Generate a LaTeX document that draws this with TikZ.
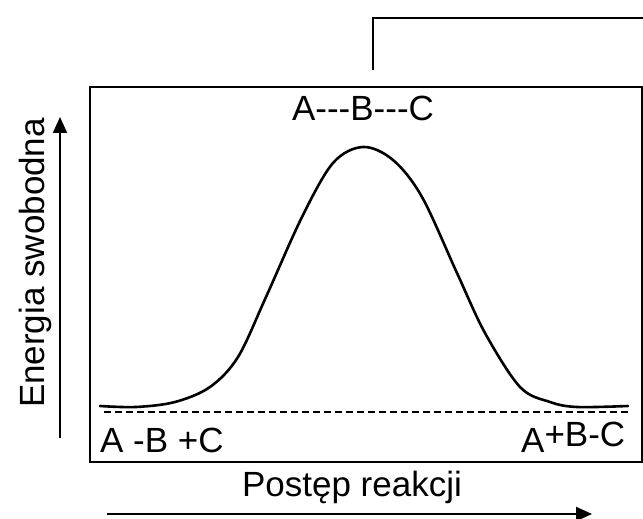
\documentclass[tikz,border=0pt]{standalone}
\usepackage{fontspec}
\setmainfont{Liberation Sans}
\usetikzlibrary{arrows.meta}

\begin{document}
\begin{tikzpicture}[
	x=1pt, y=1pt,
	lbl/.style={ inner sep=0pt, font=\fontsize{35}{40}\selectfont },
	frame/.style={ line width=2pt },
	curve/.style={ line width=2.6pt, line join=round, line cap=round },
	baseline/.style={ line width=2.2pt, dash pattern=on 7pt off 4pt },
	axis/.style={ line width=2pt, -{Triangle[length=16pt,width=14pt]} }
]

\useasboundingbox (0,0) rectangle (643,519);

\draw[frame] (90,57) rectangle (641.5,432);
\coordinate (t1) at (373,449);
\coordinate (t2) at (373,501);
\coordinate (t3) at (645,501);
\draw[frame] (t1) -- (t2) -- (t3);

\draw[curve] plot[smooth, tension=0.55] coordinates {
	(100,113) (136,112) (175,117) (210,132) (238,162) (266,222) (302,302)
	(333,356) (363,372) (393,359) (422,322) (457,246) (485,186) (520,132)
	(550,117) (577,112) (628,113) };
\coordinate (d1) at (104,107);
\coordinate (d2) at (630,107);
\draw[baseline] (d1) -- (d2);

\coordinate (e1) at (60,81);
\coordinate (e2) at (60,402);
\draw[axis] (e1) -- (e2);
\node at (45,256) (energy) [lbl,rotate=90,anchor=base] {Energia swobodna};

\coordinate (p1) at (107,5);
\coordinate (p2) at (592,5);
\draw[axis] (p1) -- (p2);
\node at (352,22) (progress) [lbl,anchor=base] {Postęp reakcji};

\node at (363,398) (ts) [lbl,anchor=base] {A-{}-{}-B-{}-{}-C};
\node at (100,66) (reac) [lbl,anchor=base west] {A -B +C};
\node at (521,66) (prod) [lbl,anchor=base west] {A\raisebox{6pt}{+B-C}};

\end{tikzpicture}
\end{document}
